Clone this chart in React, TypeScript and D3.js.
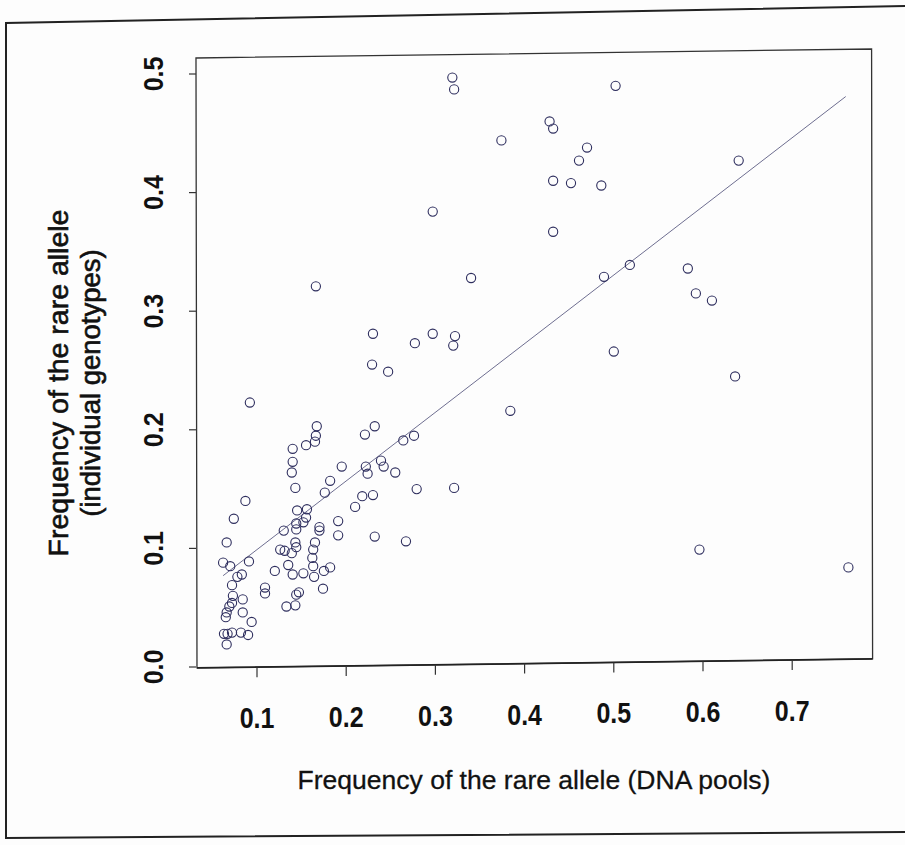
import React from 'react';
import * as d3 from 'd3';

// Frequency of the rare allele estimated from DNA pools (x) vs individual genotypes (y)
const poolFreq = [
  0.319, 0.321, 0.502, 0.428, 0.432, 0.374, 0.470, 0.461, 0.640, 0.432,
  0.452, 0.486, 0.297, 0.432, 0.489, 0.518, 0.583, 0.592, 0.610, 0.340,
  0.166, 0.230, 0.297, 0.322, 0.320, 0.277, 0.500, 0.229, 0.247, 0.636,
  0.092, 0.384, 0.596, 0.763, 0.167, 0.166, 0.165, 0.155, 0.140, 0.232,
  0.221, 0.264, 0.276, 0.140, 0.139, 0.143, 0.195, 0.222, 0.224, 0.239,
  0.242, 0.255, 0.182, 0.176, 0.279, 0.321, 0.218, 0.230, 0.087, 0.210,
  0.145, 0.156, 0.155, 0.152, 0.144, 0.074, 0.191, 0.170, 0.170, 0.130,
  0.144, 0.191, 0.232, 0.267, 0.066, 0.165, 0.143, 0.144, 0.126, 0.131,
  0.139, 0.163, 0.162, 0.091, 0.062, 0.070, 0.135, 0.163, 0.182, 0.175,
  0.120, 0.140, 0.152, 0.164, 0.083, 0.078, 0.072, 0.109, 0.109, 0.174,
  0.073, 0.084, 0.072, 0.147, 0.144, 0.069, 0.066, 0.084, 0.065, 0.133,
  0.143, 0.094, 0.063, 0.067, 0.072, 0.082, 0.090, 0.066,
];
const indivFreq = [
  0.497, 0.487, 0.490, 0.460, 0.454, 0.444, 0.438, 0.427, 0.427, 0.410,
  0.408, 0.406, 0.384, 0.367, 0.329, 0.339, 0.336, 0.315, 0.309, 0.328,
  0.321, 0.281, 0.281, 0.279, 0.271, 0.273, 0.266, 0.255, 0.249, 0.245,
  0.223, 0.216, 0.099, 0.084, 0.203, 0.195, 0.190, 0.187, 0.184, 0.203,
  0.196, 0.191, 0.195, 0.173, 0.164, 0.151, 0.169, 0.169, 0.163, 0.174,
  0.169, 0.164, 0.157, 0.147, 0.150, 0.151, 0.144, 0.145, 0.140, 0.135,
  0.132, 0.133, 0.126, 0.122, 0.121, 0.125, 0.123, 0.118, 0.115, 0.115,
  0.116, 0.111, 0.110, 0.106, 0.105, 0.105, 0.105, 0.101, 0.099, 0.098,
  0.096, 0.099, 0.092, 0.089, 0.088, 0.085, 0.086, 0.085, 0.084, 0.081,
  0.081, 0.078, 0.079, 0.076, 0.078, 0.076, 0.069, 0.067, 0.062, 0.066,
  0.060, 0.057, 0.054, 0.063, 0.061, 0.051, 0.046, 0.046, 0.042, 0.051,
  0.052, 0.038, 0.028, 0.028, 0.029, 0.029, 0.027, 0.019,
];

// fitted regression line end points
const fitX = [0.062, 0.76];
const fitY = [0.077, 0.481];

const xTicks = [0.1, 0.2, 0.3, 0.4, 0.5, 0.6, 0.7];
const yTicks = [0.0, 0.1, 0.2, 0.3, 0.4, 0.5];
const xTitle = 'Frequency of the rare allele (DNA pools)';
const yTitle = ['Frequency of the rare allele', '(individual genotypes)'];

const FONT = '"Liberation Sans", Arial, Helvetica, sans-serif';

export default function App() {
  const W = 905;
  const H = 845;
  const x = d3.scaleLinear().domain([0.1, 0.7]).range([257, 792.2]);
  const y = d3.scaleLinear().domain([0, 0.5]).range([667, 74]);

  const left = x(0.0316);
  const right = x(0.789);
  const top = y(0.5135);
  const bottom = y(-0.0008);
  const tilt = (px: number) => (-9 * (px - left)) / (right - left);

  const boxPath = `M${left},${top} L${right},${top + tilt(right)} L${right + 1},${bottom + tilt(right)} L${left + 1},${bottom} Z`;

  const line = d3
    .line<number>()
    .x((d) => x(fitX[d]))
    .y((d) => y(fitY[d]));

  const ptColor = '#2e2e5e';

  return (
    <svg
      width={W}
      height={H}
      viewBox={`0 0 ${W} ${H}`}
      style={{ position: 'absolute', left: 0, top: 0, background: '#fff' }}
    >
      <rect x={0} y={0} width={W} height={H} fill="#fdfdfd" />
      {/* outer frame */}
      <path d="M906,6 L6,23 L6,838 L906,832" fill="none" stroke="#222" strokeWidth={2} />

      {/* plot box */}
      <path d={boxPath} fill="none" stroke="#333" strokeWidth={1.3} />
      <line x1={left + 1} y1={bottom} x2={right + 1} y2={bottom + tilt(right)} stroke="#222" strokeWidth={1.8} />

      {/* x axis */}
      {xTicks.map((t) => {
        const px = x(t);
        const by = bottom + tilt(px);
        return (
          <g key={'xt' + t}>
            <line x1={px} y1={by} x2={px} y2={by + 10} stroke="#333" strokeWidth={1.2} />
            <text
              transform={`translate(${px},${by + 61}) scale(1,1.15)`}
              textAnchor="middle"
              fontFamily={FONT}
              fontWeight="bold"
              fontSize={25}
              fill="#111"
            >
              {t.toFixed(1)}
            </text>
          </g>
        );
      })}

      {/* y axis */}
      {yTicks.map((t) => {
        const py = y(t);
        return (
          <g key={'yt' + t}>
            <line x1={left} y1={py} x2={left - 7} y2={py} stroke="#333" strokeWidth={1.2} />
            <text
              transform={`translate(${left - 33},${py}) rotate(-90) scale(1,1.1)`}
              textAnchor="middle"
              fontFamily={FONT}
              fontWeight="bold"
              fontSize={25}
              fill="#111"
            >
              {t.toFixed(1)}
            </text>
          </g>
        );
      })}

      {/* regression line */}
      <path d={line([0, 1]) || ''} fill="none" stroke="#6e6e90" strokeWidth={1} />

      {/* points */}
      {poolFreq.map((v, i) => (
        <circle
          key={'p' + i}
          cx={x(v)}
          cy={y(indivFreq[i])}
          r={4.6}
          fill="none"
          stroke={ptColor}
          strokeWidth={1.1}
        />
      ))}

      {/* titles */}
      <text
        x={534}
        y={789}
        textAnchor="middle"
        fontFamily={FONT}
        fontSize={26.5}
        fill="#111"
        stroke="#111"
        strokeWidth={0.3}
      >
        {xTitle}
      </text>
      <text
        transform={`translate(68,383) rotate(-90)`}
        textAnchor="middle"
        fontFamily={FONT}
        fontSize={28.5}
        fill="#111"
        stroke="#111"
        strokeWidth={0.6}
      >
        {yTitle[0]}
      </text>
      <text
        transform={`translate(100,383) rotate(-90)`}
        textAnchor="middle"
        fontFamily={FONT}
        fontSize={27.5}
        fill="#111"
        stroke="#111"
        strokeWidth={0.6}
      >
        {yTitle[1]}
      </text>
    </svg>
  );
}
